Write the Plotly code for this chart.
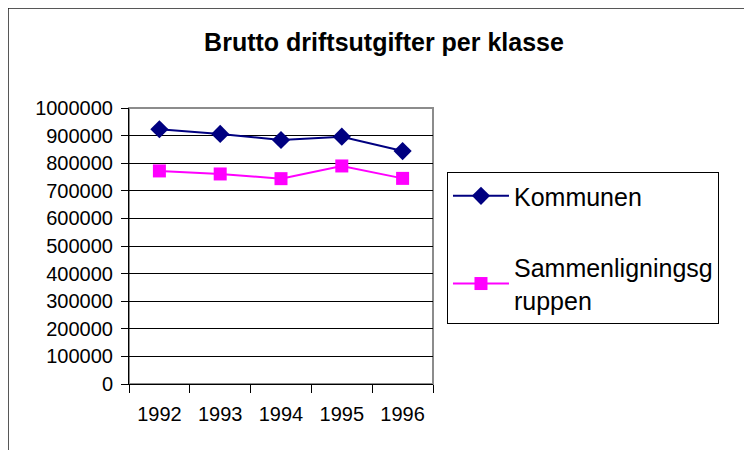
import plotly.graph_objects as go

# data
years = ['1992', '1993', '1994', '1995', '1996']
kommunen = [923000, 906000, 884000, 896000, 844000]
sammenligning = [772000, 761000, 744000, 790000, 745000]
ytick_vals = list(range(0, 1000001, 100000))

FONT = 'Arial, Liberation Sans, sans-serif'

fig = go.Figure(data=[
    go.Scatter(x=years, y=kommunen, name='Kommunen', mode='lines+markers',
               line=dict(color='#000080', width=2),
               marker=dict(symbol='diamond', size=14, color='#000080'),
               legendgroup='a'),
    go.Scatter(x=years, y=sammenligning, name='Sammenligningsg<br>ruppen', mode='lines+markers',
               line=dict(color='#FF00FF', width=2),
               marker=dict(symbol='square', size=13, color='#FF00FF'),
               legendgroup='b'),
])

# page body has an 8px margin, so the figure is 8px smaller and shifted
fig.update_layout(
    width=744, height=442,
    margin=dict(l=121, r=319, t=100, b=66),
    paper_bgcolor='white', plot_bgcolor='white',
    font=dict(family=FONT, size=20, color='black'),
    title=dict(text='<b>Brutto driftsutgifter per klasse</b>',
               font=dict(family=FONT, size=25, color='black'),
               x=376 / 744, xref='container', xanchor='center',
               y=1 - 34 / 442, yref='container', yanchor='middle'),
    showlegend=True,
    legend=dict(x=1.046, y=0.768, xanchor='left', yanchor='top',
                bordercolor='black', borderwidth=1, bgcolor='white',
                font=dict(family=FONT, size=25, color='black'),
                itemwidth=56,
                traceorder='grouped', tracegroupgap=36),
    xaxis=dict(type='category', range=[-0.5, len(years) - 0.5],
               tickson='boundaries', ticks='outside', ticklen=8,
               tickcolor='black', showline=True, linecolor='black', linewidth=1,
               showgrid=False, ticklabelstandoff=12),
    yaxis=dict(range=[0, 1000000], tickvals=ytick_vals, ticks='outside', ticklen=7,
               tickcolor='black', showline=True, linecolor='black', linewidth=1,
               showgrid=True, gridcolor='black', gridwidth=1, zeroline=False,
               tickformat='d', ticklabelstandoff=4),
    shapes=[
        # gray plot frame (top and right)
        dict(type='rect', xref='paper', yref='paper', x0=0, x1=1, y0=0, y1=1,
             line=dict(color='#8c8c8c', width=2), layer='below'),
        # outer chart frame
        dict(type='rect', xref='paper', yref='paper',
             x0=-121 / 304, x1=2.2, y0=-0.4, y1=376 / 276,
             line=dict(color='#202020', width=1.5)),
    ],
)

fig.write_html("out.html")
